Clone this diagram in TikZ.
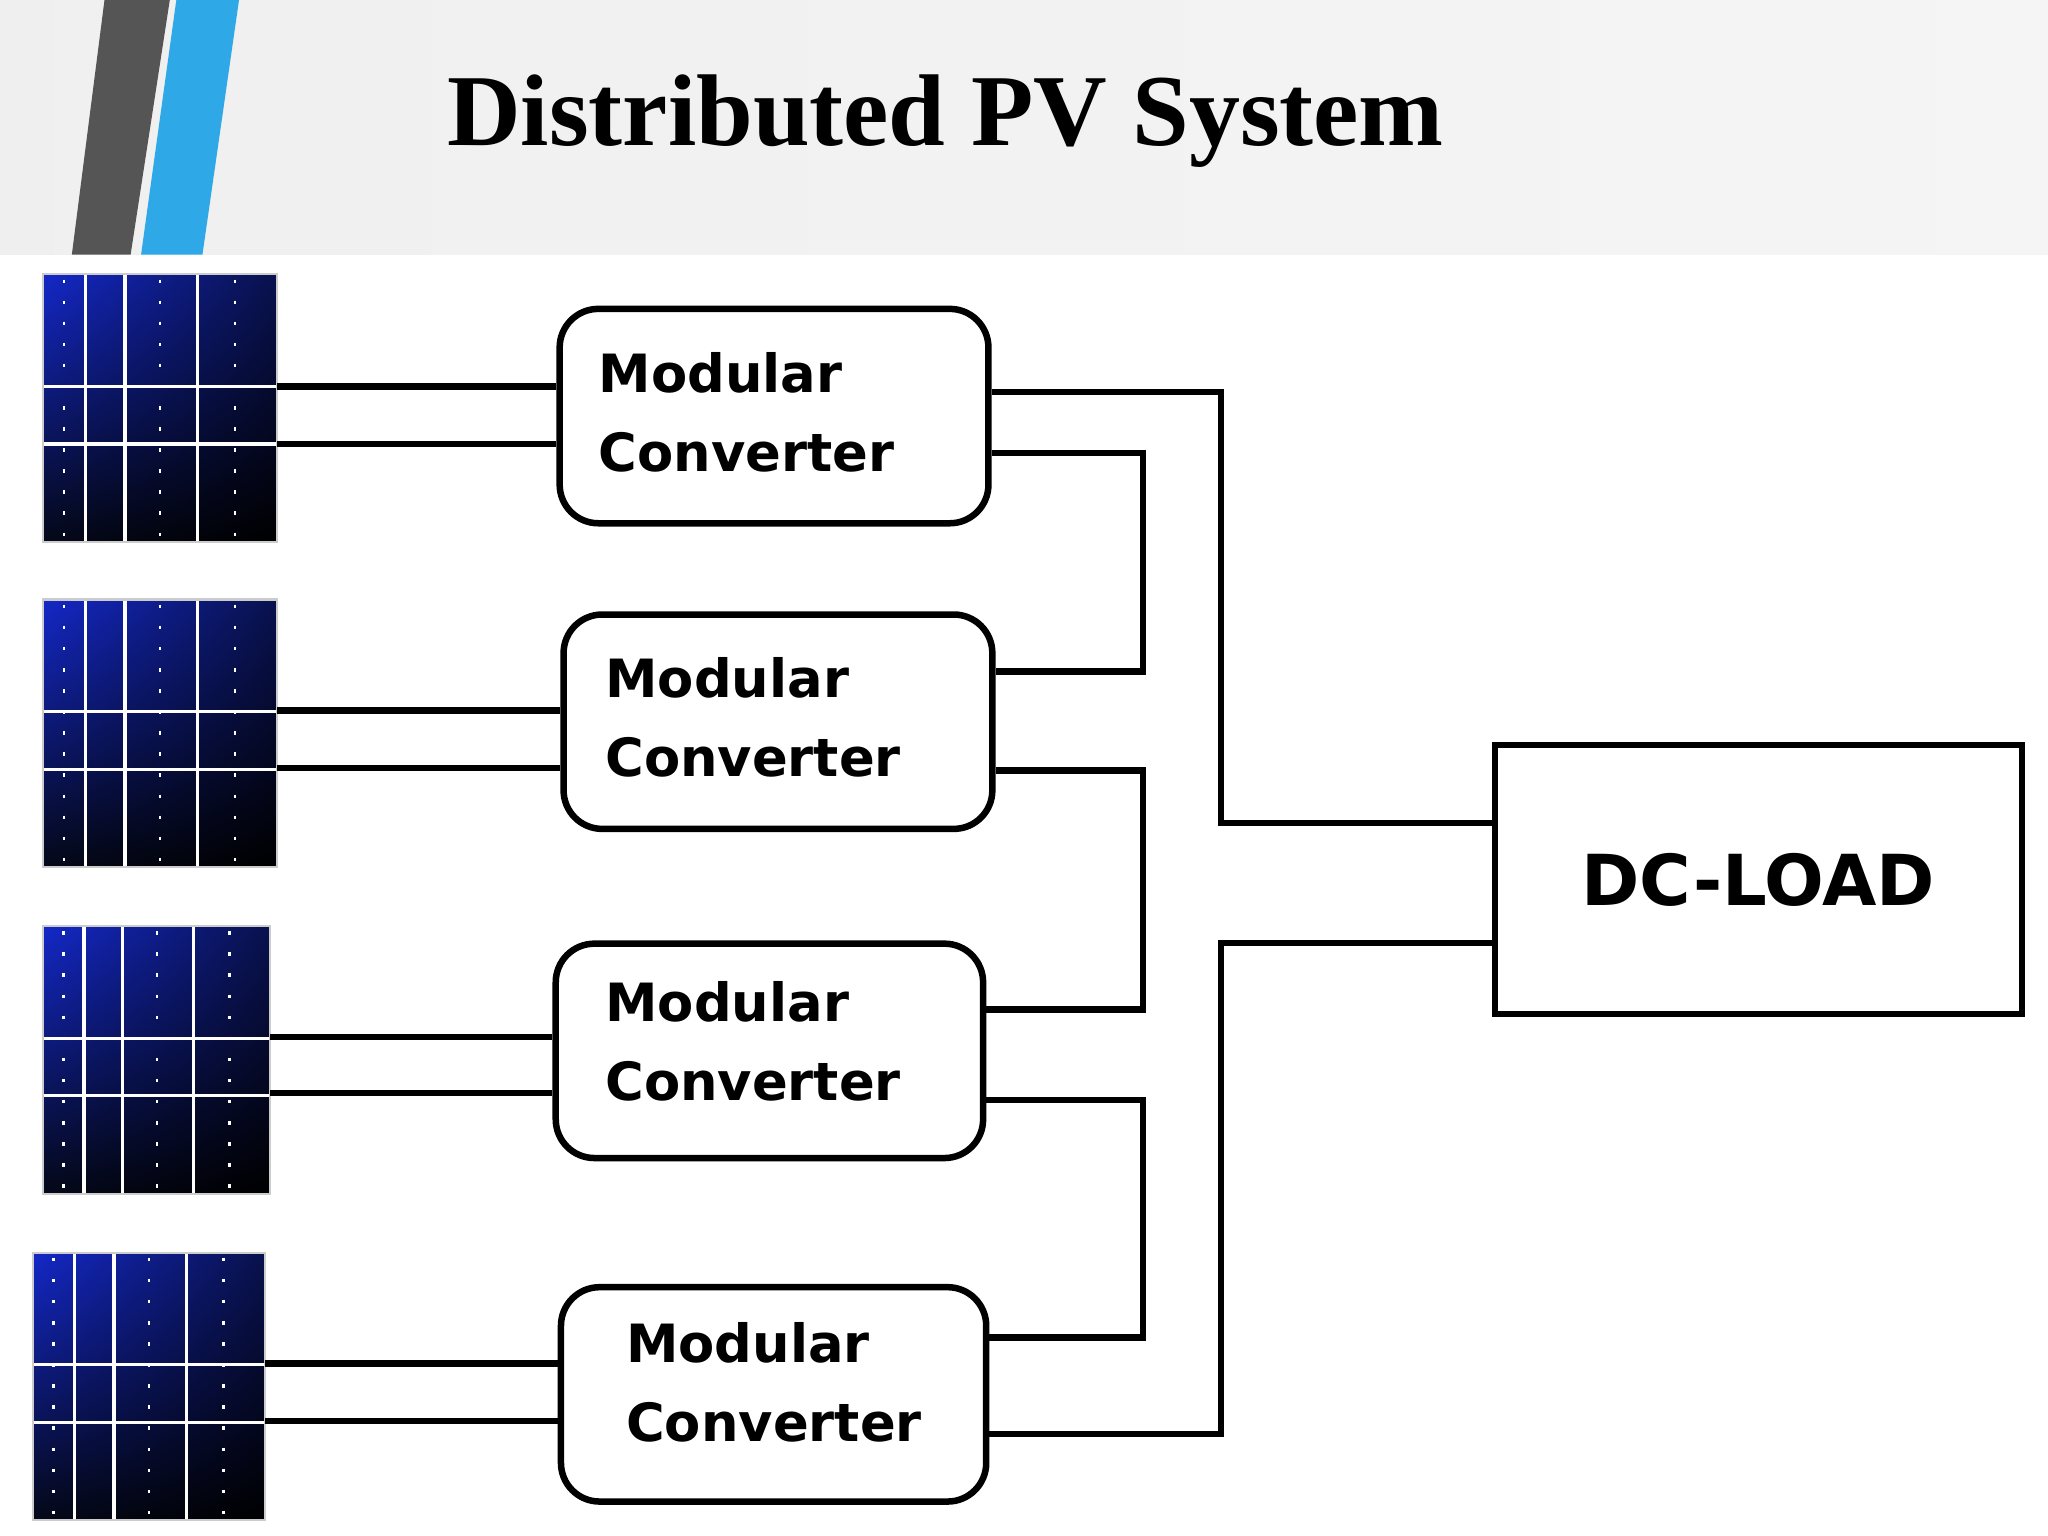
\documentclass[tikz,border=0pt]{standalone}
\usepackage{fontspec}
\setmainfont{Liberation Serif}
\newfontfamily\convfont{DejaVu Sans}
\usetikzlibrary{calc,shadings}
\definecolor{hdrgray}{HTML}{EEEEEE}
\definecolor{stripegray}{HTML}{555555}
\definecolor{stripeblue}{HTML}{2EA8E6}
\definecolor{cellblue}{HTML}{1428C8}
\definecolor{cellnavy}{HTML}{040818}
\begin{document}
\begin{tikzpicture}[x=0.013061cm, y=-0.013061cm,
  wire/.style={line width=1.85pt, line join=miter},
  conv/.style={draw, line width=1.85pt, rounded corners=11pt, inner sep=0pt,
    minimum height=61pt, anchor=north west},
  convtext/.style={font=\convfont\bfseries\fontsize{15}{22.5}\selectfont, align=left, anchor=north west},
  grid/.style={white, line width=0.9pt},
  dots/.style={white, line width=0.7pt, dash pattern=on 1pt off 5pt}]
\useasboundingbox (0,0) rectangle (1568,1176);
\fill[white] (0,0) rectangle (1568,1176);
% header
\shade[left color=hdrgray!80!gray!40, right color=hdrgray!60] (0,0) rectangle (1568,195);
\fill[stripegray] (80,0) -- (130,0) -- (100,195) -- (55,195) -- cycle;
\fill[stripeblue] (135,0) -- (183,0) -- (155,195) -- (108,195) -- cycle;
\node[font=\bfseries\fontsize{29}{32}\selectfont] (title) at (724,93) {Distributed PV System};
% solar panels
\foreach \i/\px/\py/\w in {1/33/210/179, 2/33/459/179, 3/33/709/174, 4/25/959/178} {
  \shade[lower left=cellnavy, upper left=cellblue, upper right=cellnavy!70!cellblue, lower right=black]
    (\px,\py) rectangle ++(\w,205);
  \coordinate (p\i) at (\px+\w,\py);
  \foreach \f in {0.18,0.35,0.66}
    \draw[grid] (\px+\f*\w,\py) -- ++(0,205);
  \foreach \f in {0.09,0.5,0.82}
    \draw[dots] (\px+\f*\w,\py+4) -- ++(0,200);
  \draw[grid] (\px,\py+86) -- ++(\w,0);
  \draw[grid] (\px,\py+130) -- ++(\w,0);
  \draw[gray!40, line width=0.6pt] (\px,\py) rectangle ++(\w,205);
}
% converters
\node[conv, minimum width=122pt] (c1) at (426,234) {};
\node[conv, minimum width=122pt] (c2) at (429,468) {};
\node[conv, minimum width=121.6pt] (c3) at (423,720) {};
\node[conv, minimum width=121pt] (c4) at (427,983) {};
\node[convtext] (t1) at (449,260) {Modular\\Converter};
\node[convtext] (t2) at (454,494) {Modular\\Converter};
\node[convtext] (t3) at (454,742) {Modular\\Converter};
\node[convtext] (t4) at (470,1003) {Modular\\Converter};
% load
\node[draw, line width=1.85pt, minimum width=150pt, minimum height=76.5pt, anchor=north west,
  font=\convfont\bfseries\fontsize{20}{24}\selectfont] (load) at (1142,568) {DC-LOAD};
% panel to converter
\draw[wire] (p1 |- 0,296) -- (c1.west |- 0,296);
\draw[wire] (p1 |- 0,340) -- (c1.west |- 0,340);
\draw[wire] (p2 |- 0,544) -- (c2.west |- 0,544);
\draw[wire] (p2 |- 0,588) -- (c2.west |- 0,588);
\draw[wire] (p3 |- 0,794) -- (c3.west |- 0,794);
\draw[wire] (p3 |- 0,837) -- (c3.west |- 0,837);
\draw[wire] (p4 |- 0,1044) -- (c4.west |- 0,1044);
\draw[wire] (p4 |- 0,1088) -- (c4.west |- 0,1088);
% series chain and load
\draw[wire] (c1.east |- 0,300) -| (935,630) -- (load.west |- 0,630);
\draw[wire] (c1.east |- 0,347) -| (875,514) -- (c2.east |- 0,514);
\draw[wire] (c2.east |- 0,590) -| (875,773) -- (c3.east |- 0,773);
\draw[wire] (c3.east |- 0,842) -| (875,1024) -- (c4.east |- 0,1024);
\draw[wire] (c4.east |- 0,1098) -| (935,722) -- (load.west |- 0,722);
\end{tikzpicture}
\end{document}
